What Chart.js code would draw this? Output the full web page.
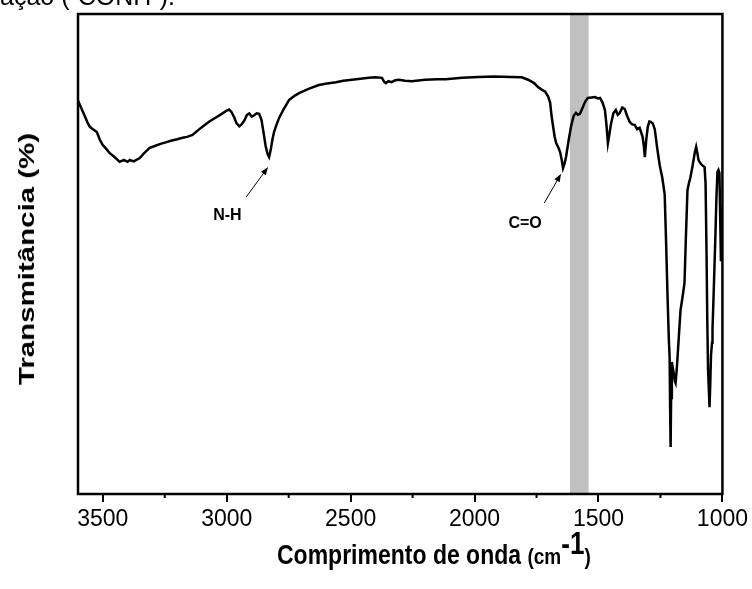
<!DOCTYPE html>
<html>
<head>
<meta charset="utf-8">
<script src="https://cdn.jsdelivr.net/npm/chart.js@4.4.0/dist/chart.umd.min.js"></script>
<style>
  html, body { margin: 0; padding: 0; background: #fff; }
  #wrap { position: relative; width: 752px; height: 589px; overflow: hidden;
          font-family: "Liberation Sans", Arial, sans-serif; color: #000; }
  #chart { position: absolute; left: 0; top: 0; }
  #topText { position: absolute; left: 0; top: -16px; font-size: 25px; line-height: 25px; white-space: nowrap; }
  #yTitle { position: absolute; left: 27px; top: 259px; font-size: 22px; font-weight: bold; line-height: 22px;
            white-space: nowrap; transform: translate(-50%, -50%) rotate(-90deg) scaleX(1.34); }
  #xTitle { position: absolute; left: 277px; top: 545px; font-weight: bold; white-space: nowrap; line-height: 24px;
            transform-origin: left bottom; transform: scaleY(1.2); }
  #xTitle .big { font-size: 23px; }
  #xTitle .small { font-size: 19px; }
  #xTitle sup { font-size: 26px; vertical-align: 8px; line-height: 0; }
</style>
</head>
<body>
<div id="wrap">
  <canvas id="chart" width="752" height="589"></canvas>
  <div id="topText">ação (-CONH-).</div>
  <div id="yTitle">Transmitância (%)</div>
  <div id="xTitle"><span class="big">Comprimento de onda </span><span class="small">(cm</span><sup>-1</sup><span class="small">)</span></div>
</div>
<script>
// FTIR spectrum, wavenumber (cm-1) vs transmittance (arbitrary %)
const wavenumbers = [
  3600, 3592, 3575, 3560, 3552, 3540, 3524, 3512, 3500, 3486, 3472, 3455, 3432, 3415, 3400, 3391,
  3375, 3351, 3335, 3311, 3290, 3270, 3243, 3225, 3200, 3178, 3160, 3138, 3120, 3098, 3070, 3042,
  3020, 3002, 2990, 2981, 2970, 2960, 2949, 2940, 2929, 2918, 2909, 2899, 2889, 2879, 2869, 2860,
  2852, 2843, 2835, 2829, 2822, 2815, 2809, 2800, 2789, 2770, 2748, 2725, 2708, 2670, 2628, 2595,
  2559, 2530, 2495, 2460, 2427, 2400, 2374, 2365, 2358, 2348, 2334, 2320, 2306, 2280, 2254, 2200,
  2150, 2117, 2050, 1985, 1920, 1852, 1810, 1784, 1760, 1744, 1728, 1715, 1703, 1695, 1690, 1683,
  1677, 1671, 1663, 1655, 1648, 1643, 1637, 1631, 1621, 1611, 1600, 1591, 1583, 1575, 1568, 1563,
  1553, 1543, 1528, 1514, 1503, 1494, 1484, 1474, 1468, 1462, 1456, 1450, 1440, 1430, 1422, 1414,
  1404, 1394, 1384, 1374, 1364, 1354, 1344, 1334, 1322, 1317, 1313, 1307, 1301, 1295, 1289, 1281,
  1273, 1263, 1253, 1243, 1233, 1227, 1221, 1216, 1213, 1211, 1209, 1207, 1204, 1201, 1196, 1192,
  1189, 1185, 1181, 1175, 1169, 1161, 1153, 1147, 1141, 1135, 1129, 1120, 1112, 1106, 1101, 1096,
  1090, 1082, 1072, 1068, 1064, 1061, 1058, 1055, 1052, 1049, 1046, 1042, 1040, 1034, 1028, 1024,
  1020, 1016, 1012, 1009, 1006, 1003, 1000
];
const transmittance = [
  82.0, 81.0, 79.0, 77.2, 76.5, 76.0, 75.4, 73.8, 72.7, 71.9, 71.0, 70.3, 69.2, 69.6, 69.2, 69.6,
  69.3, 70.0, 70.9, 72.1, 72.5, 72.9, 73.3, 73.6, 73.9, 74.2, 74.4, 74.8, 75.6, 76.5, 77.6, 78.5,
  79.2, 79.8, 80.1, 79.6, 78.5, 77.2, 76.6, 77.0, 77.8, 79.0, 79.3, 78.6, 78.9, 79.3, 79.2, 78.0,
  75.5, 72.5, 70.8, 70.2, 71.8, 74.0, 75.4, 76.8, 78.3, 80.2, 82.1, 83.0, 83.5, 84.4, 85.2, 85.5,
  85.8, 86.1, 86.3, 86.5, 86.7, 86.8, 86.7, 85.9, 85.6, 86.0, 85.8, 86.2, 86.3, 86.1, 86.0, 86.3,
  86.4, 86.4, 86.7, 86.9, 87.0, 86.9, 86.8, 86.3, 85.6, 84.8, 84.2, 83.8, 82.8, 81.5, 79.0, 76.5,
  74.5, 73.1, 72.3, 71.3, 69.5, 67.9, 68.8, 70.2, 73.5, 76.5, 78.8, 79.4, 79.0, 79.2, 80.0, 80.6,
  81.8, 82.5, 82.6, 82.7, 82.4, 82.5, 81.6, 80.0, 77.0, 73.1, 75.0, 77.0, 79.3, 80.0, 79.0, 79.4,
  80.5, 80.2, 78.7, 77.5, 77.0, 76.9, 76.0, 76.3, 74.4, 72.5, 70.2, 74.0, 76.5, 77.6, 77.5, 77.2,
  76.0, 72.0, 68.5, 66.0, 62.5, 52.0, 40.4, 32.0, 28.5, 18.0, 9.8, 20.0, 27.5, 26.5, 25.0, 23.5,
  23.1, 25.5, 28.5, 33.5, 38.3, 41.0, 44.0, 54.0, 63.3, 64.8, 66.0, 68.5, 71.0, 72.3, 71.0, 69.5,
  69.0, 68.5, 68.1, 64.8, 50.0, 36.0, 26.0, 22.0, 18.1, 23.0, 29.0, 31.5, 34.2, 44.0, 54.4, 62.0,
  67.1, 67.5, 66.9, 58.0, 48.5, 52.0, 60.0
];

const majorTicks = [3500, 3000, 2500, 2000, 1500, 1000];
const minorTicks = [3250, 2750, 2250, 1750, 1250];
const bandRange = [1540, 1615];

// peak labels: text position and arrow tail -> head, in data units
const peakLabels = ["N-H", "C=O"];
const labelPos = [[2997, 57.1], [1796, 55.4]];
const arrowFrom = [[2921, 61.9], [1719, 60.6]];
const arrowTo = [[2833, 68.1], [1651, 66.7]];

const points = wavenumbers.map((w, i) => ({ x: w, y: transmittance[i] }));

const bandPlugin = {
  id: "band",
  beforeDatasetsDraw(chart) {
    const { ctx, chartArea, scales: { x } } = chart;
    const x1 = x.getPixelForValue(bandRange[0]);
    const x2 = x.getPixelForValue(bandRange[1]);
    ctx.save();
    ctx.fillStyle = "#c0c0c0";
    ctx.fillRect(Math.min(x1, x2), chartArea.top, Math.abs(x2 - x1), chartArea.bottom - chartArea.top);
    ctx.restore();
  }
};

const framePlugin = {
  id: "frame",
  afterDraw(chart) {
    const { ctx, chartArea, scales: { x, y } } = chart;
    ctx.save();
    ctx.strokeStyle = "#000";
    ctx.lineWidth = 2.5;
    ctx.strokeRect(chartArea.left, chartArea.top, chartArea.right - chartArea.left, chartArea.bottom - chartArea.top);
    // minor ticks
    ctx.lineWidth = 2;
    minorTicks.forEach(v => {
      const px = x.getPixelForValue(v);
      ctx.beginPath();
      ctx.moveTo(px, chartArea.bottom);
      ctx.lineTo(px, chartArea.bottom + 4);
      ctx.stroke();
    });
    // peak labels with arrows
    ctx.fillStyle = "#000";
    ctx.font = "bold 16px 'Liberation Sans', Arial, sans-serif";
    ctx.textAlign = "center";
    ctx.textBaseline = "alphabetic";
    peakLabels.forEach((t, i) => {
      ctx.fillText(t, x.getPixelForValue(labelPos[i][0]), y.getPixelForValue(labelPos[i][1]));
      const x0 = x.getPixelForValue(arrowFrom[i][0]), y0 = y.getPixelForValue(arrowFrom[i][1]);
      const x1 = x.getPixelForValue(arrowTo[i][0]), y1 = y.getPixelForValue(arrowTo[i][1]);
      const a = Math.atan2(y1 - y0, x1 - x0);
      ctx.lineWidth = 1;
      ctx.beginPath();
      ctx.moveTo(x0, y0);
      ctx.lineTo(x1 - 5 * Math.cos(a), y1 - 5 * Math.sin(a));
      ctx.stroke();
      ctx.beginPath();
      ctx.moveTo(x1, y1);
      ctx.lineTo(x1 - 8 * Math.cos(a) + 3 * Math.sin(a), y1 - 8 * Math.sin(a) - 3 * Math.cos(a));
      ctx.lineTo(x1 - 8 * Math.cos(a) - 3 * Math.sin(a), y1 - 8 * Math.sin(a) + 3 * Math.cos(a));
      ctx.closePath();
      ctx.fill();
    });
    ctx.restore();
  }
};

new Chart(document.getElementById("chart").getContext("2d"), {
  type: "line",
  data: {
    datasets: [{
      data: points,
      borderColor: "#000",
      borderWidth: 2.5,
      pointRadius: 0,
      fill: false,
      tension: 0
    }]
  },
  options: {
    responsive: false,
    animation: false,
    layout: { padding: { left: 0, top: 14, right: 27, bottom: 0 } },
    plugins: { legend: { display: false }, tooltip: { enabled: false } },
    scales: {
      x: {
        type: "linear",
        reverse: true,
        min: 1000,
        max: 3600,
        afterBuildTicks: scale => { scale.ticks = majorTicks.map(v => ({ value: v })); },
        afterFit: scale => { scale.height = 95; },
        border: { display: false },
        grid: { drawOnChartArea: false, drawTicks: true, tickLength: 8, color: "#000", lineWidth: 2 },
        ticks: {
          color: "#000",
          padding: 4,
          maxRotation: 0,
          autoSkip: false,
          callback: v => String(v),
          font: { family: "'Liberation Sans', Arial, sans-serif", size: 23 }
        }
      },
      y: {
        min: 0,
        max: 100,
        afterFit: scale => { scale.width = 78; },
        border: { display: false },
        grid: { display: false },
        ticks: { display: false }
      }
    }
  },
  plugins: [bandPlugin, framePlugin]
});
</script>
</body>
</html>
